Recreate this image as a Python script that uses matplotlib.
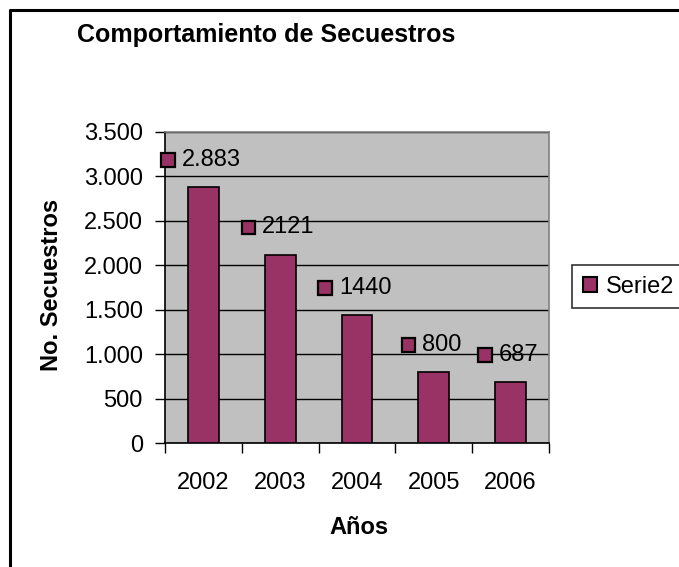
import matplotlib
matplotlib.use("Agg")
import matplotlib.pyplot as plt
from matplotlib.patches import Rectangle, Patch
from matplotlib.lines import Line2D
from matplotlib.offsetbox import AnnotationBbox, HPacker, DrawingArea, TextArea
from matplotlib.ticker import FuncFormatter, MultipleLocator

# Data
years = ['2002', '2003', '2004', '2005', '2006']
kidnappings = [2883, 2121, 1440, 800, 687]
value_labels = ['2.883', '2121', '1440', '800', '687']
series_name = 'Serie2'

bar_color = '#993366'
plt.rcParams['font.family'] = ['Liberation Sans', 'DejaVu Sans']
fs = 17

W, H = 679, 567
fig = plt.figure(figsize=(W / 100, H / 100), dpi=100)

# plot area in pixels: left 165, right 549, top 132, bottom 443
ax = fig.add_axes([165 / W, (H - 443) / H, (549 - 165) / W, (443 - 132) / H])
ax.set_facecolor('#C0C0C0')

x = list(range(len(years)))
ax.bar(x, kidnappings, width=0.4, color=bar_color, edgecolor='black', linewidth=1.2, zorder=3)

ax.set_xlim(-0.5, len(years) - 0.5)
ax.set_ylim(0, 3500)
ax.yaxis.set_major_locator(MultipleLocator(500))
ax.yaxis.set_major_formatter(FuncFormatter(lambda v, p: f'{int(v):,}'.replace(',', '.')))
ax.grid(axis='y', color='black', linewidth=1, zorder=1)
ax.set_axisbelow(True)

ax.set_xticks(x)
ax.set_xticklabels(years)
ax.set_xticks([i + 0.5 for i in range(-1, len(years))], minor=True)
ax.tick_params(axis='x', which='major', length=0, pad=21, labelsize=fs)
ax.tick_params(axis='x', which='minor', length=7, width=1, direction='out')
ax.tick_params(axis='y', length=7, width=1, direction='out', pad=9, labelsize=fs)

for side in ['left', 'bottom']:
    ax.spines[side].set_color('black')
    ax.spines[side].set_linewidth(1.2)
for side in ['top', 'right']:
    ax.spines[side].set_color('#808080')
    ax.spines[side].set_linewidth(1.2)

# data labels with legend key
for xi, v, lab in zip(x, kidnappings, value_labels):
    da = DrawingArea(11, 11, 0, 0)
    da.add_artist(Rectangle((0.6, 0.6), 9.8, 9.8, facecolor=bar_color, edgecolor='black', linewidth=1.6))
    ta = TextArea(lab, textprops=dict(fontsize=fs, color='black'))
    pack = HPacker(children=[da, ta], align='center', pad=0, sep=4.5)
    ab = AnnotationBbox(pack, (xi, v), xybox=(-1.8, 19.5), boxcoords='offset points',
                        box_alignment=(0.5, 0.5), frameon=False, annotation_clip=False, zorder=5)
    ax.add_artist(ab)

fig.text(266 / W, 1 - 35 / H, 'Comportamiento de Secuestros', ha='center', va='center',
         fontsize=18, fontweight='bold')
fig.text(52 / W, 1 - 285 / H, 'No. Secuestros', ha='center', va='center', rotation=90,
         fontsize=fs, fontweight='bold')
fig.text(359 / W, 1 - 527 / H, 'Años', ha='center', va='center', fontsize=fs, fontweight='bold')

handle = Patch(facecolor=bar_color, edgecolor='black', linewidth=1.5)
leg = fig.legend([handle], [series_name], loc='upper left',
                 bbox_to_anchor=(572 / W, 1 - 265 / H), bbox_transform=fig.transFigure,
                 fontsize=fs, frameon=True, fancybox=False, edgecolor='black',
                 handlelength=0.6, handleheight=0.6, handletextpad=0.4,
                 borderpad=0.45, borderaxespad=0)
leg.get_frame().set_linewidth(1.2)

# chart border (left and top visible)
fig.add_artist(Line2D([9.5 / W, 9.5 / W, 1.0], [0, 1 - 9.5 / H, 1 - 9.5 / H],
                      transform=fig.transFigure, color='black', linewidth=2.2))

fig.savefig('out.png', dpi=100)
